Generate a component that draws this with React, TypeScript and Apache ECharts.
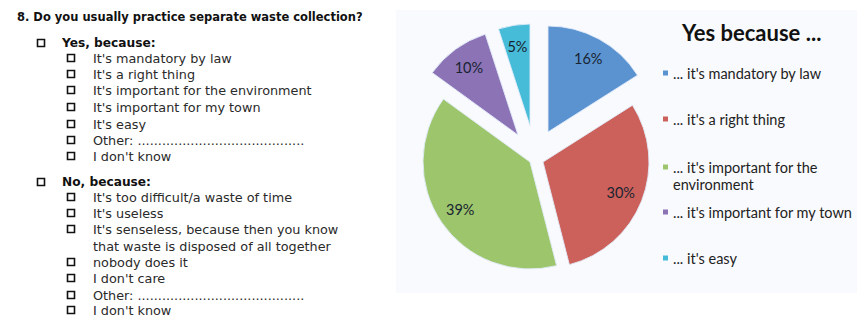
import React, { useEffect, useRef } from "react";
import * as echarts from "echarts";

const questionTitle = "8. Do you usually practice separate waste collection?";
const yesHeader = "Yes, because:";
const yesItems = [
  "It's mandatory by law",
  "It's a right thing",
  "It's important for the environment",
  "It's important for my town",
  "It's easy",
  "Other: .........................................",
  "I don't know",
];
const noHeader = "No, because:";
const noItems = [
  "It's too difficult/a waste of time",
  "It's useless",
  "It's senseless, because then you know",
  "that waste is disposed of all together",
  "nobody does it",
  "I don't care",
  "Other: .........................................",
  "I don't know",
];
const noHasBox = [true, true, true, false, true, true, true, true];

const chartTitle = "Yes because ...";
const categories = [
  "... it's mandatory by law",
  "... it's a right thing",
  "... it's important for the environment",
  "... it's important for my town",
  "... it's easy",
];
const categoryFirstLines = [
  "... it's mandatory by law",
  "... it's a right thing",
  "... it's important for the",
  "... it's important for my town",
  "... it's easy",
];
const categorySecondLines = ["", "", "environment", "", ""];
const values = [16, 30, 39, 10, 5];

// layout / style (not data)
const colors = ["#5b93d0", "#cc615b", "#9dc66c", "#8c73b6", "#47bcd8"];
const sliceCenters = [
  [548, 132],
  [543, 162],
  [530, 162],
  [518, 135],
  [530, 126],
];
const sliceRadii = [106, 106, 107, 106, 102];
const legendCenters = [73, 119, 167, 212, 258];

const FONT_Q = "DejaVu Sans";
const FONT_C = "Lato";

export default function App() {
  const ref = useRef<HTMLDivElement>(null);
  useEffect(() => {
    if (!ref.current) return;
    const chart = echarts.init(ref.current, null, { renderer: "svg" });

    const graphics: any[] = [];
    graphics.push({
      type: "rect",
      z: -10,
      silent: true,
      shape: { x: 396, y: 10, width: 461, height: 283 },
      style: { fill: "#f9fafd" },
    });
    const addText = (x: number, y: number, text: string, bold: boolean, size: number, color: string, family = FONT_Q) => {
      graphics.push({
        type: "text",
        x,
        y,
        silent: true,
        style: {
          text,
          fontFamily: family,
          fontSize: size,
          fontWeight: bold ? "bold" : "normal",
          fill: color,
          verticalAlign: "middle",
          align: "left",
        },
      });
    };
    const addBox = (x: number, y: number) => {
      graphics.push({
        type: "rect",
        silent: true,
        shape: { x: x + 0.5, y: y - 3.5, width: 7, height: 7 },
        style: { fill: "none", stroke: "#111", lineWidth: 1.6 },
      });
    };
    const itemSize = 12.8;
    addText(17, 17, questionTitle, true, 11.5, "#111");
    addBox(37, 43);
    addText(62, 43, yesHeader, true, 12.2, "#111");
    const yesY = [58, 74, 90, 107, 124, 140, 156];
    yesItems.forEach((t, i) => {
      addBox(67, yesY[i]);
      addText(93, yesY[i], t, false, itemSize, "#2a2a2a");
    });
    addBox(37, 182);
    addText(62, 182, noHeader, true, 12.2, "#111");
    const noY = [197, 213, 229, 246, 262, 278, 295, 310];
    noItems.forEach((t, i) => {
      if (noHasBox[i]) addBox(67, noY[i]);
      addText(93, noY[i], t, false, itemSize, "#2a2a2a");
    });
    categorySecondLines.forEach((t, i) => {
      if (t) addText(673, legendCenters[i] + 17, t, false, 14.5, "#222", FONT_C);
    });

    const series: any[] = [];
    values.forEach((_, k) => {
      const r = sliceRadii[k];
      series.push({
        type: "pie",
        silent: true,
        center: sliceCenters[k],
        radius: [0, r],
        startAngle: 90,
        clockwise: true,
        avoidLabelOverlap: false,
        label: { show: false },
        labelLine: { show: false },
        data: categories.map((name, i) => ({
          name,
          value: values[i],
          itemStyle: {
            color: colors[i],
            opacity: i === k ? 1 : 0,
            borderColor: i === k ? "rgba(225,235,250,0.9)" : "transparent",
            borderWidth: 1,
          },
        })),
      });
      series.push({
        type: "pie",
        silent: true,
        center: sliceCenters[k],
        radius: [r * 0.52, r],
        startAngle: 90,
        clockwise: true,
        avoidLabelOverlap: false,
        z: 5,
        labelLine: { show: false },
        data: categories.map((name, i) => ({
          name,
          value: values[i],
          itemStyle: { color: "transparent", borderWidth: 0 },
          label: {
            show: i === k,
            position: "inside",
            formatter: "{c}%",
            fontFamily: FONT_C,
            fontSize: 14.5,
            color: "#182430",
            textBorderWidth: 0,
          },
        })),
      });
    });

    const legends = categories.map((name, i) => ({
      data: [name],
      orient: "vertical",
      left: 663,
      top: legendCenters[i] - 9,
      padding: 0,
      itemWidth: 5,
      itemHeight: 5,
      icon: "rect",
      selectedMode: false,
      itemStyle: { opacity: 1, borderWidth: 0, color: colors[i] },
      formatter: () => categoryFirstLines[i],
      textStyle: {
        fontFamily: FONT_C,
        fontSize: 14.5,
        color: "#222",
        lineHeight: 18,
      },
    }));

    chart.setOption({
      animation: false,
      backgroundColor: "#ffffff",
      title: {
        text: chartTitle,
        left: 682,
        top: 21,
        padding: 0,
        textStyle: { fontFamily: FONT_C, fontSize: 22, fontWeight: "bold", color: "#111" },
      },
      legend: legends,
      graphic: graphics,
      series,
    });
    return () => chart.dispose();
  }, []);
  return (
    <div
      ref={ref}
      style={{ position: "fixed", left: 0, top: 0, width: 857, height: 317 }}
    />
  );
}
